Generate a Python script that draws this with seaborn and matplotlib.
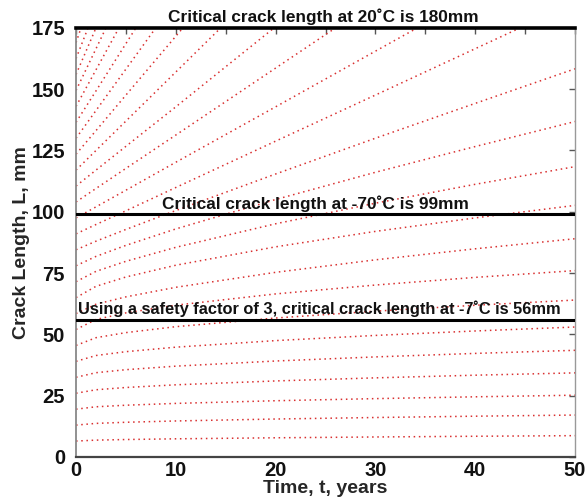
import numpy as np
import pandas as pd
import matplotlib
matplotlib.use("Agg")
import matplotlib.pyplot as plt
import seaborn as sns

# Sampling times (years) shared by all growth curves
TIME = [0, 2, 5, 10, 20, 30, 40, 50]

# Crack length (mm) versus time for each initial crack length
curve_01 = [6.5, 6.87, 7.12, 7.41, 7.83, 8.16, 8.45, 8.7]
curve_02 = [13.0, 13.70, 14.16, 14.69, 15.48, 16.10, 16.63, 17.1]
curve_03 = [19.5, 20.47, 21.11, 21.85, 22.94, 23.80, 24.54, 25.2]
curve_04 = [26.0, 27.41, 28.34, 29.43, 31.01, 32.27, 33.35, 34.3]
curve_05 = [32.5, 34.37, 35.60, 37.04, 39.14, 40.81, 42.24, 43.5]
curve_06 = [39.0, 41.38, 42.95, 44.78, 47.46, 49.57, 51.39, 53.0]
curve_07 = [45.5, 48.65, 50.72, 53.14, 56.67, 59.47, 61.87, 64.0]
curve_08 = [52.0, 56.08, 58.77, 61.91, 66.50, 70.12, 73.24, 76.0]
curve_09 = [58.5, 62.3, 65.3, 69.2, 75.3, 80.4, 84.9, 89.0]
curve_10 = [65.0, 69.6, 73.4, 78.2, 85.7, 92.0, 97.5, 102.6]
curve_11 = [71.5, 75.7, 79.8, 85.5, 95.1, 103.5, 111.2, 118.4]
curve_12 = [78.0, 81.8, 86.3, 93.0, 105.0, 116.1, 126.6, 136.8]
curve_13 = [84.5, 88.0, 92.8, 100.5, 115.4, 130.0, 144.2, 158.3]
curve_14 = [91.0, 94.8, 100.4, 109.9, 128.8, 147.6, 166.5, 185.4]
curve_15 = [97.5, 102.0, 108.8, 120.2, 142.8, 165.5, 188.1]
curve_16 = [104.0, 109.5, 117.7, 131.3, 158.6, 185.9]
curve_17 = [110.5, 117.0, 126.7, 142.8, 175.5]
curve_18 = [117.0, 125.0, 137.0, 157.0, 197.0]
curve_19 = [123.5, 133.1, 147.6, 171.6, 219.7]
curve_20 = [130.0, 141.3, 158.2, 186.3]
curve_21 = [136.5, 149.3, 168.6, 200.7]
curve_22 = [143.0, 157.9, 180.2]
curve_23 = [149.5, 166.5, 192.0]
curve_24 = [156.0, 175.0, 203.5]
curve_25 = [162.5, 183.3]
curve_26 = [169.0, 193.0]

CURVES = [curve_01, curve_02, curve_03, curve_04, curve_05, curve_06, curve_07,
          curve_08, curve_09, curve_10, curve_11, curve_12, curve_13, curve_14,
          curve_15, curve_16, curve_17, curve_18, curve_19, curve_20, curve_21,
          curve_22, curve_23, curve_24, curve_25, curve_26]

# Critical crack lengths (mm) and their annotations
CRITICAL_20C = 180
CRITICAL_M70C = 99
SAFE_M7C = 56
LABEL_20C = "Critical crack length at 20˚C is 180mm"
LABEL_M70C = "Critical crack length at -70˚C is 99mm"
LABEL_M7C = "Using a safety factor of 3, critical crack length at -7˚C is 56mm"

X_TICKS = [0, 10, 20, 30, 40, 50]
X_MINOR = [5, 15, 25, 35, 45]
Y_TICKS = [0, 25, 50, 75, 100, 125, 150, 175]

rows = []
for i, vals in enumerate(CURVES):
    for t, L in zip(TIME, vals):
        rows.append({"curve": i, "t": t, "L": L})
df = pd.DataFrame(rows)

sns.set_theme(style="white")
plt.rcParams["font.family"] = ["Liberation Sans", "DejaVu Sans"]

fig = plt.figure(figsize=(5.85, 4.99), dpi=100)
ax = fig.add_axes([0.130, 0.0842, 0.853, 0.86])

sns.lineplot(data=df, x="t", y="L", units="curve", estimator=None,
             color="#d93030", linewidth=1.1, linestyle=(0, (1, 2.4)),
             sort=False, legend=False, ax=ax)

ax.set_xlim(0, 50)
ax.set_ylim(0, 175)

# critical levels
ax.axhline(CRITICAL_M70C, color="black", lw=2.2, zorder=3)
ax.axhline(SAFE_M7C, color="black", lw=2.2, zorder=3)

txt_kw = dict(ha="center", va="bottom", fontweight="bold",
              color="#111111", zorder=4)
ax.text(24.8, 176.0, LABEL_20C, fontsize=12.4, clip_on=False, **txt_kw)
ax.text(24.0, CRITICAL_M70C + 1.0, LABEL_M70C, fontsize=12.4, **txt_kw)
ax.text(24.4, SAFE_M7C + 1.0, LABEL_M7C, fontsize=11.8, **txt_kw)

# frame: heavy top edge marks the 20˚C critical length
for side in ["top", "bottom", "left", "right"]:
    ax.spines[side].set_visible(True)
ax.spines["top"].set_color("black")
ax.spines["top"].set_linewidth(2.6)
ax.spines["top"].set_zorder(5)
ax.spines["bottom"].set_color("#444444")
ax.spines["bottom"].set_linewidth(1.6)
ax.spines["left"].set_color("#888888")
ax.spines["left"].set_linewidth(1.3)
ax.spines["right"].set_color("#999999")
ax.spines["right"].set_linewidth(1.0)

ax.set_xticks(X_TICKS)
ax.set_xticks(X_MINOR, minor=True)
ax.set_yticks(Y_TICKS)
ax.tick_params(which="both", direction="in", top=True, right=True,
               length=4, width=1.0, color="#555555")
ax.tick_params(axis="x", which="major", labelsize=14.5, pad=3)
ax.tick_params(axis="y", which="major", labelsize=14.5, pad=8)
for lab in ax.get_xticklabels() + ax.get_yticklabels():
    lab.set_fontweight("bold")
    lab.set_color("#111111")

ax.set_xlabel("Time, t, years", fontsize=14, fontweight="bold", labelpad=0)
ax.set_ylabel("Crack Length, L, mm", fontsize=14, fontweight="bold", labelpad=1)

fig.savefig("out.png", dpi=100)
